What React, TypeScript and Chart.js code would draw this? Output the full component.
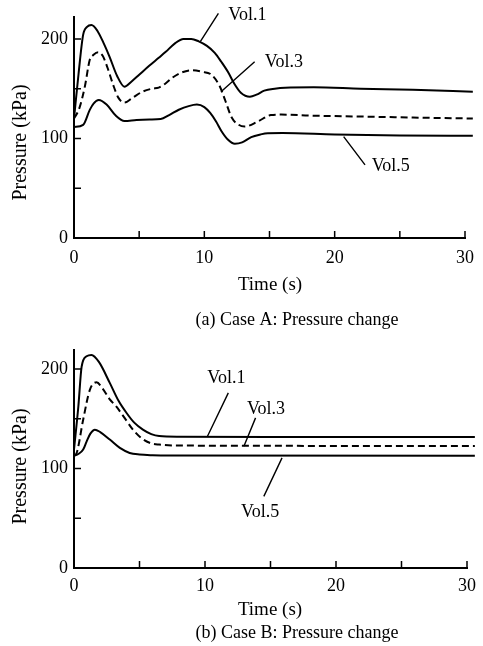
import React, { useEffect, useRef } from "react";
import { Chart, registerables } from "chart.js";

Chart.register(...registerables);

// ---------- Case A data (time s, pressure kPa) ----------
const A_VOL1_T = [0, 0.35, 0.7, 1.0, 1.34, 1.8, 2.3, 2.73, 3.3, 3.87, 4.4, 5.0, 5.77, 6.5, 7.04, 7.7, 8.4, 9.0, 9.57, 10.2, 10.8, 11.3, 11.85, 12.3, 12.8, 13.5, 14.0, 14.6, 15.4, 16.2, 18.4, 22, 26, 30.6];
const A_VOL1_P = [120, 165, 204, 212, 214, 208, 195, 182, 163, 152, 157, 164, 173, 181, 187, 195, 200, 200, 197.5, 193, 186, 177, 166, 155, 146, 142, 144, 148, 150, 151, 151.4, 150, 149, 147];

const A_VOL3_T = [0, 0.4, 0.83, 1.21, 1.5, 1.85, 2.2, 2.6, 3.0, 3.4, 3.87, 4.5, 5.26, 6.0, 6.5, 7.0, 7.54, 8.2, 9.06, 9.8, 10.57, 11.2, 11.58, 12.1, 12.6, 13.1, 14.1, 15.1, 15.9, 18, 22, 26, 30.6];
const A_VOL3_P = [120, 130, 152, 179, 184, 186.5, 183, 170, 154, 141, 136, 141, 147, 150, 151, 155, 161, 166, 168.5, 167, 163.8, 152, 139, 121, 114, 112, 117, 123.5, 124, 123, 122, 121, 120];

const A_VOL5_T = [0, 0.7, 1.21, 1.5, 1.9, 2.5, 3.2, 3.87, 4.8, 5.8, 6.65, 7.3, 8.04, 8.8, 9.43, 10.0, 10.45, 10.9, 11.33, 11.8, 12.34, 12.9, 13.6, 14.3, 14.87, 16, 20, 25, 30.6];
const A_VOL5_P = [111.5, 113.6, 128.7, 135, 138.5, 134, 123, 117.5, 118.5, 119, 119.5, 123.5, 128.8, 132.5, 134, 131.5, 125.6, 117, 107, 99, 94.7, 96, 101.3, 104, 105.3, 105.5, 104, 103, 102.8];

// ---------- Case B data ----------
const B_VOL1_T = [0, 0.33, 0.58, 0.96, 1.34, 1.9, 2.73, 3.4, 4.0, 4.6, 5.26, 5.9, 6.5, 8, 15, 30.6];
const B_VOL1_P = [119, 162, 202, 212.7, 214, 207, 186, 168, 156, 146, 139, 134.5, 132.5, 131.8, 131.6, 131.6];

const B_VOL3_T = [0, 0.2, 0.7, 1.21, 1.72, 2.2, 2.7, 3.24, 3.9, 4.5, 5.1, 5.77, 6.5, 8, 30.6];
const B_VOL3_P = [113, 115.5, 149, 179, 186.5, 180, 170, 162, 150, 139, 131, 125.8, 124, 123, 122.6];

const B_VOL5_T = [0, 0.33, 0.7, 0.96, 1.25, 1.6, 2.0, 2.73, 3.5, 4.25, 5.0, 6, 7.3, 30.6];
const B_VOL5_P = [112.5, 114.5, 119, 127, 135, 139, 136.5, 129, 120.6, 115.6, 114, 113.3, 113, 112.8];

// ---------- Axes ----------
const X_MIN = 0;
const X_MAX = 30;
const X_LABELS = [0, 10, 20, 30];
const X_MARKS = [0, 5, 10, 15, 20, 25, 30];
const Y_LABELS = [0, 100, 200];
const Y_MARKS = [0, 50, 100, 150, 200];
const A_Y_MAX = 222;
const B_Y_MAX = 219;

// ---------- Annotations (data coords) ----------
const A_NOTE_TEXT = ["Vol.1", "Vol.3", "Vol.5"];
const A_NOTE_POS = [[11.84, 224], [14.64, 176.3], [22.84, 72]];
const A_NOTE_FROM = [[11.08, 225.7], [13.86, 177.1], [22.33, 73.5]];
const A_NOTE_TO = [[9.69, 197.2], [11.28, 147], [20.69, 101.9]];

const B_NOTE_TEXT = ["Vol.1", "Vol.3", "Vol.5"];
const B_NOTE_POS = [[10.17, 190.8], [13.2, 159.6], [12.75, 56.1]];
const B_NOTE_FROM = [[11.78, 175.9], [13.86, 150.8], [14.49, 72]];
const B_NOTE_TO = [[10.19, 132.3], [12.97, 122.2], [15.88, 110.6]];

const X_TITLE = "Time (s)";
const Y_TITLE = "Pressure (kPa)";
const A_CAPTION = "(a) Case A: Pressure change";
const B_CAPTION = "(b) Case B: Pressure change";

const FONT = '"Liberation Serif", "Times New Roman", serif';

function pts(t: number[], p: number[]) {
  return t.map((x, i) => ({ x, y: p[i] }));
}

type Props = {
  height: number;
  top: number;
  padTop: number;
  xHeight: number;
  yMax: number;
  series: { t: number[]; p: number[]; dash: number[] }[];
  notesText: string[];
  notesPos: number[][];
  notesFrom: number[][];
  notesTo: number[][];
  xTitleY: number;
  captionY: number;
  yTitleY: number;
  caption: string;
  tickPad: number;
};

function PressureChart(props: Props) {
  const ref = useRef<HTMLCanvasElement | null>(null);
  useEffect(() => {
    const canvas = ref.current;
    if (!canvas) return;
    const decor = {
      id: "decor",
      afterDraw(chart: any) {
        const { ctx, chartArea } = chart;
        const xs = chart.scales.x;
        const ys = chart.scales.y;
        ctx.save();
        ctx.strokeStyle = "#000";
        ctx.fillStyle = "#000";
        ctx.lineWidth = 1.5;
        ctx.beginPath();
        for (const v of X_MARKS) {
          const px = xs.getPixelForValue(v);
          if (v === 0) continue;
          ctx.moveTo(px, chartArea.bottom);
          ctx.lineTo(px, chartArea.bottom - 7);
        }
        for (const v of Y_MARKS) {
          const py = ys.getPixelForValue(v);
          if (v === 0) continue;
          ctx.moveTo(chartArea.left, py);
          ctx.lineTo(chartArea.left + 7, py);
        }
        ctx.stroke();
        // leader lines
        ctx.lineWidth = 1.4;
        ctx.beginPath();
        props.notesFrom.forEach((f, i) => {
          const t = props.notesTo[i];
          ctx.moveTo(xs.getPixelForValue(f[0]), ys.getPixelForValue(f[1]));
          ctx.lineTo(xs.getPixelForValue(t[0]), ys.getPixelForValue(t[1]));
        });
        ctx.stroke();
        ctx.font = `18px ${FONT}`;
        ctx.textAlign = "left";
        ctx.textBaseline = "middle";
        props.notesText.forEach((s, i) => {
          const p = props.notesPos[i];
          ctx.fillText(s, xs.getPixelForValue(p[0]), ys.getPixelForValue(p[1]));
        });
        // titles
        ctx.textAlign = "center";
        ctx.font = `19px ${FONT}`;
        ctx.fillText(X_TITLE, 270, props.xTitleY);
        ctx.font = `18px ${FONT}`;
        ctx.fillText(props.caption, 297, props.captionY);
        ctx.save();
        ctx.translate(21, props.yTitleY);
        ctx.rotate(-Math.PI / 2);
        ctx.font = `20px ${FONT}`;
        ctx.fillText(Y_TITLE, 0, 0);
        ctx.restore();
        ctx.restore();
      },
    };
    const tickFont = { family: FONT, size: 18 };
    const chart = new Chart(canvas, {
      type: "line",
      data: {
        datasets: props.series.map((s) => ({
          data: pts(s.t, s.p),
          borderColor: "#000",
          borderWidth: 2,
          borderDash: s.dash,
          pointRadius: 0,
          fill: false,
          cubicInterpolationMode: "monotone",
          clip: false,
        })),
      },
      options: {
        responsive: false,
        animation: false,
        devicePixelRatio: 1,
        events: [],
        elements: { line: { capBezierPoints: false } },
        layout: { padding: { top: props.padTop, right: 14, left: 0, bottom: 0 } },
        plugins: { legend: { display: false }, tooltip: { enabled: false }, title: { display: false } },
        scales: {
          x: {
            type: "linear",
            min: X_MIN,
            max: X_MAX,
            grid: { display: false, drawTicks: false },
            border: { display: true, color: "#000", width: 2 },
            ticks: {
              stepSize: 5,
              padding: props.tickPad,
              font: tickFont,
              color: "#000",
              autoSkip: false,
              maxRotation: 0,
              callback: (v: any) => (X_LABELS.includes(Number(v)) ? String(v) : ""),
            },
            afterFit: (s: any) => {
              s.height = props.xHeight;
            },
          },
          y: {
            type: "linear",
            min: 0,
            max: props.yMax,
            grid: { display: false, drawTicks: false },
            border: { display: true, color: "#000", width: 2 },
            ticks: {
              stepSize: 100,
              includeBounds: false,
              padding: 6,
              font: tickFont,
              color: "#000",
              callback: (v: any) => (Y_LABELS.includes(Number(v)) ? String(v) : ""),
            },
            afterFit: (s: any) => {
              s.width = 74;
            },
          },
        },
      } as any,
      plugins: [decor],
    } as any);
    return () => chart.destroy();
  }, []);
  return (
    <canvas
      ref={ref}
      width={483}
      height={props.height}
      style={{ position: "absolute", left: 0, top: props.top, width: 483, height: props.height }}
    />
  );
}

export default function App() {
  return (
    <div style={{ position: "absolute", left: 0, top: 0, width: 483, height: 646, background: "#fff" }}>
      <PressureChart
        height={330}
        top={0}
        padTop={17}
        xHeight={92}
        yMax={A_Y_MAX}
        series={[
          { t: A_VOL1_T, p: A_VOL1_P, dash: [] },
          { t: A_VOL3_T, p: A_VOL3_P, dash: [7, 4] },
          { t: A_VOL5_T, p: A_VOL5_P, dash: [] },
        ]}
        notesText={A_NOTE_TEXT}
        notesPos={A_NOTE_POS}
        notesFrom={A_NOTE_FROM}
        notesTo={A_NOTE_TO}
        xTitleY={285}
        captionY={320}
        yTitleY={142.5}
        caption={A_CAPTION}
        tickPad={9}
      />
      <PressureChart
        height={316}
        top={330}
        padTop={20}
        xHeight={78}
        yMax={B_Y_MAX}
        series={[
          { t: B_VOL1_T, p: B_VOL1_P, dash: [] },
          { t: B_VOL3_T, p: B_VOL3_P, dash: [7, 4] },
          { t: B_VOL5_T, p: B_VOL5_P, dash: [] },
        ]}
        notesText={B_NOTE_TEXT}
        notesPos={B_NOTE_POS}
        notesFrom={B_NOTE_FROM}
        notesTo={B_NOTE_TO}
        xTitleY={610 - 330}
        captionY={633 - 330}
        yTitleY={466.5 - 330}
        caption={B_CAPTION}
        tickPad={7}
      />
    </div>
  );
}
